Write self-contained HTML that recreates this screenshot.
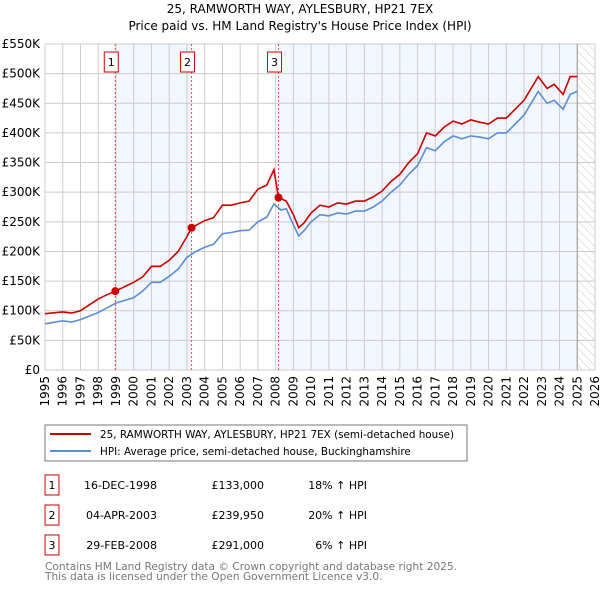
<!DOCTYPE html>
<html><head><meta charset="utf-8"><style>
body{margin:0;background:#fff;width:600px;height:590px;overflow:hidden}
svg{display:block;font-family:"DejaVu Sans","Liberation Sans",sans-serif}
</style></head><body>
<svg id="c" width="600" height="590" xmlns="http://www.w3.org/2000/svg">
<defs><pattern id="hatch" width="6" height="6" patternUnits="userSpaceOnUse" patternTransform="rotate(-45)"><line x1="0" y1="0" x2="0" y2="6" stroke="#ccc" stroke-width="1"/></pattern></defs>
<text x="300" y="13" text-anchor="middle" font-size="12">25, RAMWORTH WAY, AYLESBURY, HP21 7EX</text>
<text x="300" y="30" text-anchor="middle" font-size="12">Price paid vs. HM Land Registry's House Price Index (HPI)</text>
<g id="plot"></g>
<rect x="45" y="425" width="422" height="36" fill="#fff" stroke="#777"/>
<line x1="50" y1="434" x2="91" y2="434" stroke="#cc0000" stroke-width="2"/>
<text x="100" y="438" font-size="10.4">25, RAMWORTH WAY, AYLESBURY, HP21 7EX (semi-detached house)</text>
<line x1="50" y1="451" x2="91" y2="451" stroke="#5b8ed6" stroke-width="2"/>
<text x="100" y="455" font-size="10.4">HPI: Average price, semi-detached house, Buckinghamshire</text>
<g id="table" font-size="11"></g>
<text x="45" y="570" font-size="10.6" fill="#777">Contains HM Land Registry data © Crown copyright and database right 2025.</text>
<text x="45" y="580" font-size="10.6" fill="#777">This data is licensed under the Open Government Licence v3.0.</text>
</svg>
<script>
const hpiYears=[1995,1996,1996.5,1997,1998,1998.5,1999,2000,2000.5,2001,2001.5,2002,2002.5,2003,2003.5,2004,2004.5,2005,2005.5,2006,2006.5,2007,2007.5,2007.9,2008.3,2008.6,2009,2009.3,2009.6,2010,2010.5,2011,2011.5,2012,2012.5,2013,2013.5,2014,2014.5,2015,2015.5,2016,2016.5,2017,2017.5,2018,2018.5,2019,2019.5,2020,2020.5,2021,2021.5,2022,2022.5,2022.8,2023.3,2023.7,2024.2,2024.6,2025];
const hpiValues=[78,83,81,85,97,105,113,122,133,148,148,158,170,190,200,207,212,230,232,235,236,250,258,280,270,272,245,226,235,250,262,260,265,263,268,268,275,285,300,312,330,345,375,370,385,395,390,395,393,390,400,400,415,430,455,470,450,455,440,465,470];
const priceYears=[1995,1996,1996.5,1997,1998,1998.5,1998.96,2000,2000.5,2001,2001.5,2002,2002.5,2003,2003.26,2004,2004.5,2005,2005.5,2006,2006.5,2007,2007.5,2007.9,2008.16,2008.6,2009,2009.3,2009.6,2010,2010.5,2011,2011.5,2012,2012.5,2013,2013.5,2014,2014.5,2015,2015.5,2016,2016.5,2017,2017.5,2018,2018.5,2019,2019.5,2020,2020.5,2021,2021.5,2022,2022.5,2022.8,2023.3,2023.7,2024.2,2024.6,2025];
const priceValues=[95,98,96,100,120,127,133,148,157,175,175,185,200,225,240,252,257,278,278,282,285,305,312,338,291,285,262,240,248,265,278,275,282,280,285,285,292,302,318,330,350,365,400,395,410,420,415,422,418,415,425,425,440,455,480,495,475,482,465,495,495];
const saleLabels=["1","2","3"];
const saleYears=[1998.96,2003.26,2008.16];
const saleValues=[133,239.95,291];
const saleDates=["16-DEC-1998","04-APR-2003","29-FEB-2008"];
const salePrices=["£133,000","£239,950","£291,000"];
const salePcts=["18% ↑ HPI","20% ↑ HPI","6% ↑ HPI"];
const yTicks=[0,50,100,150,200,250,300,350,400,450,500,550];
const yTickLabels=["£0","£50K","£100K","£150K","£200K","£250K","£300K","£350K","£400K","£450K","£500K","£550K"];
const xTicks=[1995,1996,1997,1998,1999,2000,2001,2002,2003,2004,2005,2006,2007,2008,2009,2010,2011,2012,2013,2014,2015,2016,2017,2018,2019,2020,2021,2022,2023,2024,2025,2026];
const dataEnd=2025.0;

const X0=45,X1=595,Y0=370,Y1=44;
const xs=y=>X0+(y-1995)/(2026-1995)*(X1-X0);
const ys=v=>Y0-v/550*(Y0-Y1);
const NS="http://www.w3.org/2000/svg";
const plot=document.getElementById('plot');
function mk(tag,attrs,parent){const e=document.createElementNS(NS,tag);for(const k in attrs)e.setAttribute(k,attrs[k]);(parent||plot).appendChild(e);return e;}

let r=mk('rect',{x:X0,y:Y1,width:X1-X0,height:Y0-Y1,fill:'#fff'});


r=mk('rect',{x:xs(saleYears[0]),y:Y1,width:xs(saleYears[1])-xs(saleYears[0]),height:Y0-Y1,fill:'#f2f6fe'});


r=mk('rect',{x:xs(saleYears[2]),y:Y1,width:xs(dataEnd)-xs(saleYears[2]),height:Y0-Y1,fill:'#f2f6fe'});


r=mk('rect',{x:xs(dataEnd),y:Y1,width:X1-xs(dataEnd),height:Y0-Y1,fill:'url(#hatch)'});



yTicks.forEach((t,i)=>{
  const l=mk('line',{x1:X0,x2:X1,y1:ys(t),y2:ys(t),stroke:'#ccc','stroke-width':1});
  
  
  const tx=mk('text',{x:X0-5,y:ys(t)+4,'text-anchor':'end','font-size':12});
  
  
  tx.textContent=yTickLabels[i];
});
xTicks.forEach(t=>{
  const l=mk('line',{x1:xs(t),x2:xs(t),y1:Y1,y2:Y0,stroke:'#ccc','stroke-width':1});
  
  
  const tx=mk('text',{x:0,y:0,'font-size':12,transform:`translate(${xs(t)+4},${Y0+6}) rotate(-90)`,'text-anchor':'end'});
  
  
  tx.textContent=t;
});
let vl=mk('line',{x1:xs(dataEnd),x2:xs(dataEnd),y1:Y1,y2:Y0,stroke:'#999','stroke-width':1});



saleYears.forEach((y,i)=>{
  const l=mk('line',{x1:xs(y),x2:xs(y),y1:Y1,y2:Y0,stroke:'#e05050','stroke-width':1,'stroke-dasharray':'2,2'});
  
  
  const bx=xs(y)-11;
  const b=mk('rect',{x:bx,y:52,width:14,height:20,fill:'#fff',stroke:'#cc0000'});
  
  
  const t=mk('text',{x:bx+7,y:66,'text-anchor':'middle','font-size':11});
  
  
  t.textContent=saleLabels[i];
});

function path(xa,va){return xa.map((x,i)=>(i?'L':'M')+xs(x).toFixed(1)+','+ys(va[i]).toFixed(1)).join('');}
let p=mk('path',{d:path(hpiYears,hpiValues),fill:'none',stroke:'#5b8ed6','stroke-width':1.6});


p=mk('path',{d:path(priceYears,priceValues),fill:'none',stroke:'#cc0000','stroke-width':1.6});


saleYears.forEach((y,i)=>{
  const c=mk('circle',{cx:xs(y),cy:ys(saleValues[i]),r:4,fill:'#cc0000'});
  
  
});

const tb=document.getElementById('table');
saleLabels.forEach((s,i)=>{
  const y0=475+i*30;
  const b=mk('rect',{x:45,y:y0,width:14,height:20,fill:'#fff',stroke:'#cc0000'},tb);
  
  
  const vals=[[52,s,'middle'],[157,saleDates[i],'end'],[264,salePrices[i],'end'],[367,salePcts[i],'end']];
  vals.forEach(v=>{
    const t=mk('text',{x:v[0],y:y0+14,'text-anchor':v[2]},tb);
    
    
    t.textContent=v[1];
  });
});
</script>
</body></html>
